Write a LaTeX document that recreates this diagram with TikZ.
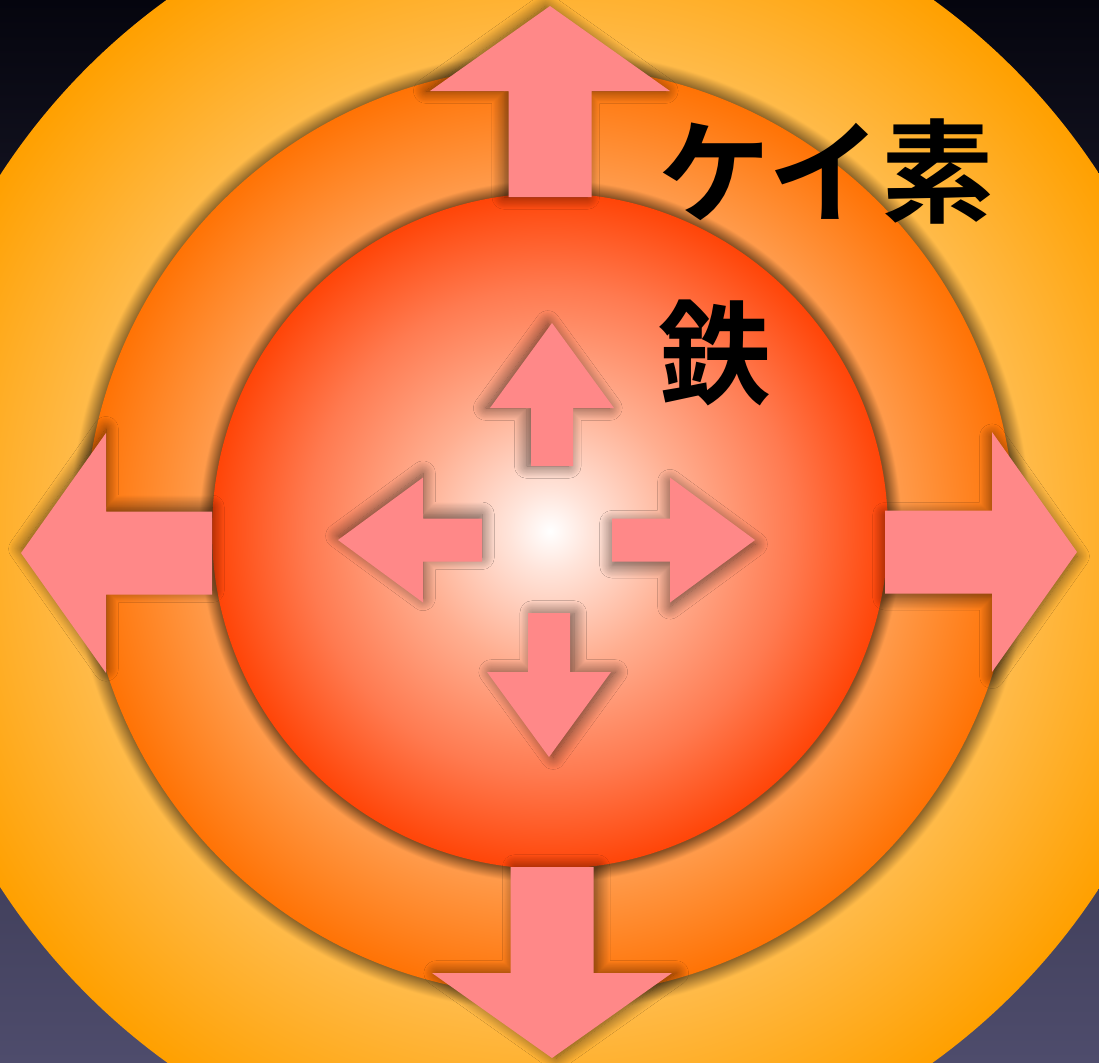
\documentclass[tikz,border=0pt]{standalone}
\usepackage{fontspec}
\usepackage{tikz}
\usetikzlibrary{shadows.blur}

\newfontfamily\jpfont{Noto Sans CJK JP Bold}

\definecolor{bgtop}{RGB}{5,5,14}
\definecolor{bgbottom}{RGB}{78,76,108}
\definecolor{arrowpink}{RGB}{255,136,136}
\definecolor{mantleA}{RGB}{255,186,72}
\definecolor{mantleB}{RGB}{255,160,0}
\definecolor{mantleEdge}{RGB}{140,100,40}
\definecolor{shellA}{RGB}{255,154,74}
\definecolor{shellB}{RGB}{255,115,5}
\definecolor{shellEdge}{RGB}{135,80,35}
\definecolor{coreA}{RGB}{255,228,218}
\definecolor{coreB}{RGB}{255,174,144}
\definecolor{coreC}{RGB}{255,122,80}
\definecolor{coreD}{RGB}{255,69,8}

% the dark band just outside the next layer is part of each shading
\pgfdeclareradialshading{mantleglow}{\pgfpoint{0bp}{0bp}}{%
  color(0bp)=(mantleEdge); color(17.75bp)=(mantleEdge); color(18.35bp)=(mantleA);
  color(25bp)=(mantleB); color(50bp)=(mantleB)}
\pgfdeclareradialshading{shellglow}{\pgfpoint{0bp}{0bp}}{%
  color(0bp)=(shellEdge); color(18.2bp)=(shellEdge); color(18.9bp)=(shellA);
  color(25bp)=(shellB); color(50bp)=(shellB)}
\pgfdeclareradialshading{coreglow}{\pgfpoint{0bp}{0bp}}{%
  color(0bp)=(white); color(3bp)=(coreA); color(10bp)=(coreB); color(18bp)=(coreC);
  color(25bp)=(coreD); color(50bp)=(coreD)}

\begin{document}
\begin{tikzpicture}[
    x=0.01cm, y=-0.01cm,
    sphere/.style={shade, shading=#1},
    pusharrow/.style 2 args={
        fill=arrowpink,
        blur shadow={shadow xshift=#1, shadow yshift=#2, shadow blur radius=3.5pt,
            shadow blur steps=16, shadow opacity=60}
    },
    tag/.style={
        font=\jpfont\fontsize{32}{32}\selectfont,
        text=black,
        inner sep=0pt
    },
    pics/blockarrow/.style args={#1/#2/#3/#4/#5}{code={
        \path[pusharrow={#4}{#5}] (0,-#2) -- (#1-85,-#2) -- (#1-85,-#3) -- (#1,0)
            -- (#1-85,#3) -- (#1-85,#2) -- (0,#2) -- cycle;
    }}
]
\useasboundingbox (0,0) rectangle (1099,1062);
\clip (0,0) rectangle (1099,1062);

\shade[top color=bgtop, bottom color=bgbottom] (0,0) rectangle (1099,1062);

\path[sphere=mantleglow] (550,531) circle (655);
\path[sphere=shellglow] (550,531) circle (465);
\path[sphere=coreglow] (550,531) circle (338);

% outer arrows (last two values: shadow offset, so it always falls downwards)
\pic[rotate=90] at (550,197) {blockarrow=191/41.5/120/-1.2pt/0pt};
\pic[rotate=-90] at (552,867) {blockarrow=191/41.5/120/1.2pt/0pt};
\pic[rotate=180] at (212,553) {blockarrow=191/41.5/120/0pt/1.2pt};
\pic at (885,552) {blockarrow=192/41.5/120/0pt/-1.2pt};

% inner arrows
\pic[rotate=90] at (552,466) {blockarrow=143/21/62/-1.2pt/0pt};
\pic[rotate=-90] at (549,613) {blockarrow=144/21/62/1.2pt/0pt};
\pic[rotate=180] at (482,540) {blockarrow=144/21.5/62.5/0pt/1.2pt};
\pic at (612,540) {blockarrow=143/21.5/62.5/0pt/-1.2pt};

\node[tag] (silicon) at (826,171) {ケイ素};
\node[tag] (iron) at (715,353) {鉄};

\end{tikzpicture}
\end{document}
